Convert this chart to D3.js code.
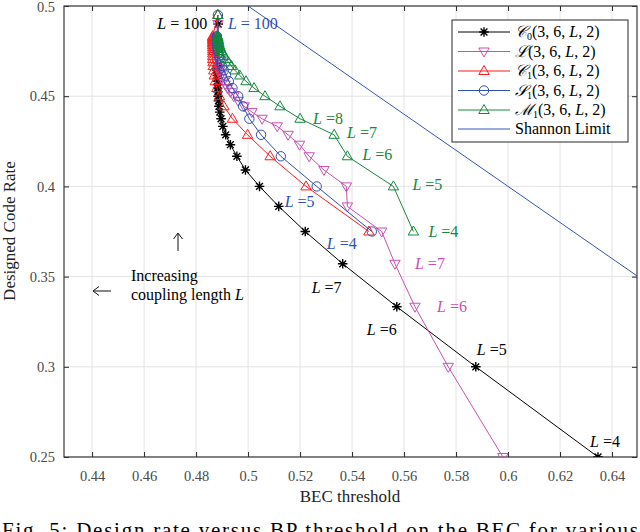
<!DOCTYPE html>
<html>
<head>
<meta charset="utf-8">
<style>
    body { margin: 0; background: #fff; }
    text { font-family: "Liberation Serif", "DejaVu Serif", serif; }
    .grid line { stroke: #e3e3e3; stroke-width: 1; }
</style>
</head>
<body>
<svg width="640" height="532"></svg>
<script src="https://cdn.jsdelivr.net/npm/d3@7/dist/d3.min.js"></script>
<script>
    // coupling lengths L = 4..30 and 100
    var Ls = [4, 5, 6, 7, 8, 9, 10, 11, 12, 13, 14, 15, 16, 17, 18, 19, 20,
        21, 22, 23, 24, 25, 26, 27, 28, 29, 30, 100];

    // design rates
    var rateA = [0.25, 0.3, 0.3333, 0.3571, 0.375, 0.3889, 0.4, 0.4091, 0.4167, 0.4231,
        0.4286, 0.4333, 0.4375, 0.4412, 0.4444, 0.4474, 0.45, 0.4524, 0.4545, 0.4565,
        0.4583, 0.46, 0.4615, 0.463, 0.4643, 0.4655, 0.4667, 0.49];
    var rateB = [0.375, 0.4, 0.4167, 0.4286, 0.4375, 0.4444, 0.45, 0.4545, 0.4583, 0.4615,
        0.4643, 0.4667, 0.4688, 0.4706, 0.4722, 0.4737, 0.475, 0.4762, 0.4773, 0.4783,
        0.4792, 0.48, 0.4808, 0.4815, 0.4821, 0.4828, 0.4833, 0.495];

    // BP thresholds per ensemble
    var thrC0 = [0.6346, 0.5876, 0.5572, 0.5364, 0.5220, 0.5118, 0.5044, 0.4990, 0.4957, 0.4932,
        0.4914, 0.4903, 0.4896, 0.4891, 0.4888, 0.4886, 0.4885, 0.4884, 0.4883, 0.4883,
        0.4882, 0.4882, 0.4882, 0.4882, 0.4881, 0.4881, 0.4881, 0.4885];
    var thrL = [0.5980, 0.5770, 0.5642, 0.5565, 0.5514, 0.5382, 0.5378, 0.5292, 0.5235, 0.5198,
        0.5154, 0.5112, 0.5054, 0.5015, 0.4985, 0.4962, 0.4945, 0.4932, 0.4921, 0.4912,
        0.4905, 0.4899, 0.4895, 0.4892, 0.4890, 0.4888, 0.4887, 0.4884];
    var thrC1 = [0.5465, 0.5223, 0.5085, 0.4998, 0.4940, 0.4907, 0.4890, 0.4880, 0.4874, 0.4870,
        0.4868, 0.4866, 0.4865, 0.4864, 0.4864, 0.4864, 0.4864, 0.4864, 0.4864, 0.4864,
        0.4864, 0.4864, 0.4864, 0.4864, 0.4864, 0.4864, 0.4864, 0.4884];
    var thrS1 = [0.5476, 0.5264, 0.5126, 0.5050, 0.5005, 0.4981, 0.4962, 0.4940, 0.4926, 0.4915,
        0.4907, 0.4900, 0.4895, 0.4891, 0.4888, 0.4886, 0.4884, 0.4883, 0.4882, 0.4882,
        0.4881, 0.4881, 0.4881, 0.4880, 0.4880, 0.4880, 0.4880, 0.4884];
    var thrM1 = [0.5636, 0.5559, 0.5382, 0.5331, 0.5200, 0.5123, 0.5065, 0.5023, 0.4992, 0.4968,
        0.4950, 0.4936, 0.4925, 0.4916, 0.4909, 0.4903, 0.4899, 0.4895, 0.4892, 0.4890,
        0.4888, 0.4887, 0.4886, 0.4885, 0.4884, 0.4884, 0.4883, 0.4884];

    // Shannon limit R = 1 - eps
    var shannonEps = [0.40, 0.70];
    var shannonRate = [0.60, 0.30];

    var xTicks = [0.44, 0.46, 0.48, 0.5, 0.52, 0.54, 0.56, 0.58, 0.6, 0.62, 0.64];
    var yTicks = [0.25, 0.3, 0.35, 0.4, 0.45, 0.5];

    var series = [
        { name: "C0", thr: thrC0, rate: rateA, color: "#000000", marker: "star" },
        { name: "L", thr: thrL, rate: rateA, color: "#c94fb6", marker: "down" },
        { name: "C1", thr: thrC1, rate: rateB, color: "#ff1a1a", marker: "up" },
        { name: "S1", thr: thrS1, rate: rateB, color: "#2f4fb5", marker: "circle" },
        { name: "M1", thr: thrM1, rate: rateB, color: "#12893a", marker: "up" }
    ];

    // in-plot L annotations: series, L value, text of the number
    var pointLabels = [
        { s: 0, L: 100, num: " = 100", dx: -11, dy: 5, anchor: "end" },
        { s: 0, L: 7, num: " =7", dx: -31, dy: 29 },
        { s: 0, L: 6, num: " =6", dx: -30, dy: 28 },
        { s: 0, L: 5, num: " =5", dx: 1, dy: -12 },
        { s: 0, L: 4, num: " =4", dx: -8, dy: -10 },
        { s: 3, L: 100, num: " = 100", dx: 10, dy: 14 },
        { s: 3, L: 5, num: " =5", dx: -32, dy: 21 },
        { s: 3, L: 4, num: " =4", dx: -45, dy: 17 },
        { s: 1, L: 7, num: " =7", dx: 20, dy: 5 },
        { s: 1, L: 6, num: " =6", dx: 22, dy: 5 },
        { s: 4, L: 8, num: " =8", dx: 13, dy: 5 },
        { s: 4, L: 7, num: " =7", dx: 13, dy: 3 },
        { s: 4, L: 6, num: " =6", dx: 15, dy: 4 },
        { s: 4, L: 5, num: " =5", dx: 19, dy: 4 },
        { s: 4, L: 4, num: " =4", dx: 15, dy: 5 }
    ];

    var svg = d3.select("svg");
    var pLeft = 64, pRight = 637, pTop = 6, pBottom = 457;

    var x = d3.scaleLinear().domain([0.4292, 0.6496]).range([pLeft, pRight]);
    var y = d3.scaleLinear().domain([0.25, 0.5]).range([pBottom, pTop]);

    svg.append("defs").append("clipPath").attr("id", "clip")
        .append("rect").attr("x", pLeft).attr("y", pTop)
        .attr("width", pRight - pLeft).attr("height", pBottom - pTop);

    // grid
    var grid = svg.append("g").attr("class", "grid");
    grid.selectAll(".gx").data(xTicks).enter().append("line")
        .attr("x1", d => x(d)).attr("x2", d => x(d)).attr("y1", pTop).attr("y2", pBottom);
    grid.selectAll(".gy").data(yTicks).enter().append("line")
        .attr("x1", pLeft).attr("x2", pRight).attr("y1", d => y(d)).attr("y2", d => y(d));

    // axes (ticks inward, box on)
    var fmt = d => String(+d.toFixed(2));
    function styleAxis(g) {
        g.select(".domain").remove();
        g.selectAll(".tick line").attr("stroke", "#262626");
        g.selectAll(".tick text").attr("fill", "#4a4a4a")
            .style("font-family", "'Liberation Serif', serif")
            .style("font-size", "14.5px");
    }
    svg.append("g").attr("transform", "translate(0," + pBottom + ")")
        .call(d3.axisBottom(x).tickValues(xTicks).tickFormat(fmt).tickSizeInner(-5).tickSizeOuter(0).tickPadding(14))
        .call(styleAxis);
    svg.append("g").attr("transform", "translate(0," + pTop + ")")
        .call(d3.axisTop(x).tickValues(xTicks).tickFormat("").tickSizeInner(-5).tickSizeOuter(0))
        .call(styleAxis);
    var yAxisG = svg.append("g").attr("transform", "translate(" + pLeft + ",0)")
        .call(d3.axisLeft(y).tickValues(yTicks).tickFormat(fmt).tickSizeInner(-5).tickSizeOuter(0).tickPadding(9))
        .call(styleAxis);
    // keep the top label inside the picture
    yAxisG.selectAll(".tick text").filter(d => d === 0.5).attr("dy", "0.4em");
    svg.append("g").attr("transform", "translate(" + pRight + ",0)")
        .call(d3.axisRight(y).tickValues(yTicks).tickFormat("").tickSizeInner(-5).tickSizeOuter(0))
        .call(styleAxis);

    svg.append("rect").attr("x", pLeft).attr("y", pTop)
        .attr("width", pRight - pLeft).attr("height", pBottom - pTop)
        .attr("fill", "none").attr("stroke", "#3a3a3a").attr("stroke-width", 1.2);

    // marker paths centred on 0,0
    function markerPath(type) {
        if (type === "star") return "M-4.8,0H4.8M0,-4.8V4.8M-3.4,-3.4L3.4,3.4M-3.4,3.4L3.4,-3.4";
        if (type === "up") return "M0,-5.5L5.2,3.5L-5.2,3.5Z";
        if (type === "down") return "M0,5.5L5.2,-3.5L-5.2,-3.5Z";
        return "M4.7,0A4.7,4.7 0 1,1 -4.7,0A4.7,4.7 0 1,1 4.7,0Z";
    }

    var plot = svg.append("g").attr("clip-path", "url(#clip)");
    var line = d3.line().x(d => x(d[0])).y(d => y(d[1]));

    series.forEach(function (s) {
        var pts = s.thr.map((t, i) => [t, s.rate[i]]);
        var g = plot.append("g");
        g.append("path").attr("d", line(pts)).attr("fill", "none")
            .attr("stroke", s.color).attr("stroke-width", 1);
        g.selectAll("path.m").data(pts).enter().append("path").attr("class", "m")
            .attr("transform", d => "translate(" + x(d[0]) + "," + y(d[1]) + ")")
            .attr("d", markerPath(s.marker))
            .attr("fill", "none").attr("stroke", s.color)
            .attr("stroke-width", s.marker === "star" ? 1.4 : 1);
    });

    plot.append("path")
        .attr("d", line(shannonEps.map((e, i) => [e, shannonRate[i]])))
        .attr("fill", "none").attr("stroke", "#3456b8").attr("stroke-width", 1);

    // L annotations
    pointLabels.forEach(function (p) {
        var s = series[p.s], i = Ls.indexOf(p.L);
        var t = svg.append("text")
            .attr("x", x(s.thr[i]) + p.dx).attr("y", y(s.rate[i]) + p.dy)
            .attr("text-anchor", p.anchor || "start")
            .attr("fill", s.color).style("font-size", "16px");
        t.append("tspan").style("font-style", "italic").text("L");
        t.append("tspan").text(p.num);
    });

    // "Increasing coupling length L" note, with drawn arrows
    var arrows = svg.append("g").attr("stroke", "#111").attr("stroke-width", 1).attr("fill", "none");
    arrows.append("path").attr("d", "M178,251V234M173.5,239L178,233L182.5,239");
    arrows.append("path").attr("d", "M111,291H94M99,286.5L93,291L99,295.5");
    svg.append("text").attr("x", 131).attr("y", 281).style("font-size", "16px").text("Increasing");
    var note = svg.append("text").attr("x", 131).attr("y", 300).style("font-size", "16px");
    note.append("tspan").text("coupling length ");
    note.append("tspan").style("font-style", "italic").text("L");

    // legend
    var legendNames = [
        ["\u{1D49E}", "0"], ["\u2112", ""], ["\u{1D49E}", "1"], ["\u{1D4AE}", "1"], ["\u2133", "1"]
    ];
    var lg = svg.append("g");
    lg.append("rect").attr("x", 452).attr("y", 20).attr("width", 176).attr("height", 122)
        .attr("fill", "#fff").attr("stroke", "#262626").attr("stroke-width", 1);
    var rowY = [32, 51.5, 71, 90.5, 110, 129];
    series.forEach(function (s, i) {
        var ry = rowY[i];
        lg.append("line").attr("x1", 458).attr("x2", 510).attr("y1", ry).attr("y2", ry)
            .attr("stroke", s.color);
        lg.append("path").attr("transform", "translate(484," + ry + ")")
            .attr("d", markerPath(s.marker)).attr("fill", "none").attr("stroke", s.color)
            .attr("stroke-width", s.marker === "star" ? 1.4 : 1);
        var t = lg.append("text").attr("x", 515).attr("y", ry + 5).style("font-size", "16px");
        t.append("tspan").style("font-family", "'DejaVu Serif', serif").style("font-style", "italic").text(legendNames[i][0]);
        if (legendNames[i][1]) t.append("tspan").attr("dy", 3).style("font-size", "10px").text(legendNames[i][1]);
        t.append("tspan").attr("dy", legendNames[i][1] ? -3 : 0).text("(3, 6, ");
        t.append("tspan").style("font-style", "italic").text("L");
        t.append("tspan").text(", 2)");
    });
    lg.append("line").attr("x1", 458).attr("x2", 510).attr("y1", rowY[5]).attr("y2", rowY[5])
        .attr("stroke", "#3456b8");
    lg.append("text").attr("x", 515).attr("y", rowY[5] + 5).style("font-size", "16px").text("Shannon Limit");

    // axis titles
    svg.append("text").attr("x", 350).attr("y", 502).attr("text-anchor", "middle")
        .style("font-size", "17px").attr("fill", "#222").text("BEC threshold");
    svg.append("text").attr("transform", "translate(15,231) rotate(-90)")
        .attr("text-anchor", "middle").style("font-size", "17px").attr("fill", "#222")
        .text("Designed Code Rate");

    // caption (cut by the picture edge, as in the reference)
    svg.append("text").attr("x", 2).attr("y", 537).attr("textLength", 636)
        .style("font-size", "21px").text("Fig. 5: Design rate versus BP threshold on the BEC for various");
</script>
</body>
</html>
